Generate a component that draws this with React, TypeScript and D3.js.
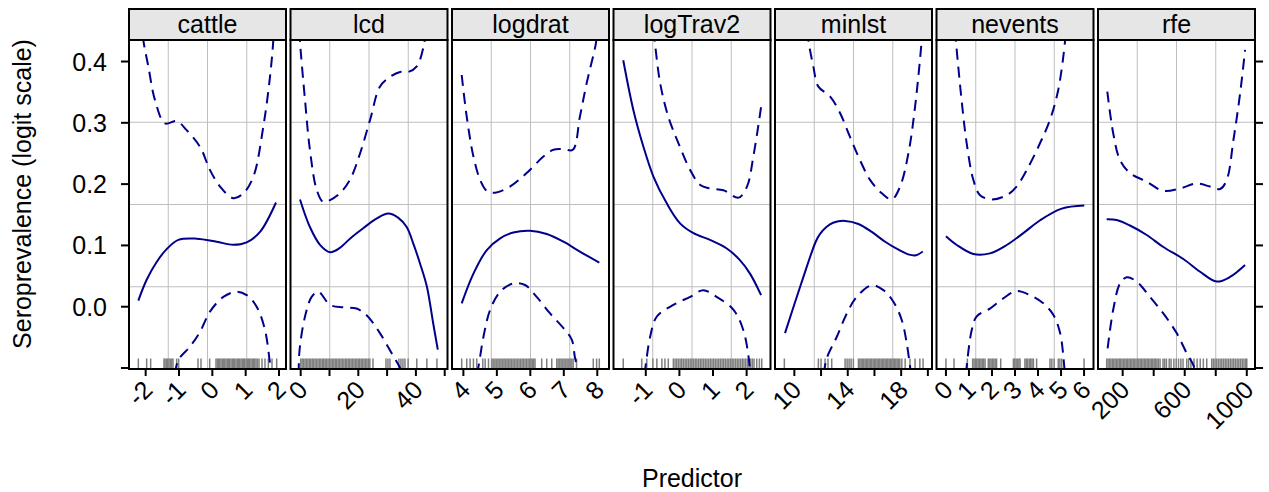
import * as d3 from "d3";

// y axis (shared by all panels)
const yTicks = [-0.1, 0, 0.1, 0.2, 0.3, 0.4];
const yTickLabels = ["", "0.0", "0.1", "0.2", "0.3", "0.4"];

const panelNames = ["cattle", "lcd", "logdrat", "logTrav2", "minlst", "nevents", "rfe"];

const xDomains: [number, number][] = [
  [-2.5, 2.21],
  [-3.54, 50.97],
  [3.66, 8.35],
  [-1.96, 2.71],
  [8.55, 20.31],
  [-0.41, 6.41],
  [41, 1053],
];

const xTicks = [
  [-2, -1, 0, 1, 2],
  [0, 10, 20, 30, 40, 50],
  [4, 5, 6, 7, 8],
  [-1, 0, 1, 2],
  [10, 12, 14, 16, 18, 20],
  [0, 1, 2, 3, 4, 5, 6],
  [200, 400, 600, 800, 1000],
];
const xTickLabels = [
  ["-2", "-1", "0", "1", "2"],
  ["0", "", "20", "", "40", ""],
  ["4", "5", "6", "7", "8"],
  ["-1", "0", "1", "2"],
  ["10", "", "14", "", "18", ""],
  ["0", "1", "2", "3", "4", "5", "6"],
  ["200", "", "600", "", "1000"],
];

// fitted curve and pointwise bands, [predictor, seroprevalence]
const cattleFit = [[-2.22, 0.01], [-1.97, 0.044], [-1.67, 0.073], [-1.37, 0.094], [-1.02, 0.109], [-0.47, 0.111], [0.13, 0.106], [0.63, 0.101], [1.03, 0.105], [1.43, 0.122], [1.91, 0.17]];
const cattleUpper = [[-2.12, 0.47], [-2.07, 0.435], [-1.92, 0.392], [-1.72, 0.337], [-1.42, 0.299], [-1.07, 0.303], [-0.77, 0.288], [-0.37, 0.261], [-0.07, 0.223], [0.23, 0.196], [0.63, 0.177], [0.93, 0.185], [1.23, 0.212], [1.53, 0.294], [1.73, 0.375], [1.83, 0.435], [1.86, 0.47]];
const cattleLower = [[-1.12, -0.11], [-1.02, -0.087], [-0.67, -0.065], [-0.37, -0.041], [-0.07, -0.008], [0.33, 0.016], [0.73, 0.0245], [1.03, 0.019], [1.33, 0.0], [1.58, -0.038], [1.73, -0.092], [1.78, -0.11]];

const lcdFit = [[-0.24, 0.175], [3.2, 0.13], [6.7, 0.101], [10.2, 0.089], [13.6, 0.096], [17.1, 0.111], [21.7, 0.128], [26.4, 0.144], [30.4, 0.152], [33.9, 0.145], [36.8, 0.13], [39.1, 0.103], [41.4, 0.071], [43.8, 0.033], [46, -0.027], [47.6, -0.07]];
const lcdUpper = [[-0.4, 0.45], [-0.2, 0.43], [1.5, 0.337], [3.2, 0.256], [5.6, 0.19], [7.8, 0.171], [10.2, 0.174], [13.6, 0.185], [17.1, 0.207], [20.6, 0.25], [24.1, 0.305], [27.5, 0.359], [31, 0.375], [34.5, 0.383], [37.4, 0.383], [40.3, 0.392], [42.9, 0.43], [43.3, 0.45]];
const lcdLower = [[-0.7, -0.11], [-0.4, -0.071], [1.5, -0.016], [3.8, 0.016], [6.1, 0.0245], [10.2, 0.003], [14.8, -0.001], [19.4, -0.003], [22.9, -0.014], [27.5, -0.043], [31.6, -0.076], [34.5, -0.1], [35.2, -0.11]];

const logdratFit = [[3.95, 0.0055], [4.3, 0.054], [4.7, 0.0925], [5.1, 0.1115], [5.49, 0.121], [5.99, 0.124], [6.49, 0.1186], [6.99, 0.106], [7.48, 0.09], [8.06, 0.072]];
const logdratUpper = [[3.95, 0.378], [4.1, 0.31], [4.3, 0.245], [4.5, 0.207], [4.7, 0.189], [4.95, 0.186], [5.39, 0.196], [5.89, 0.218], [6.39, 0.245], [6.69, 0.256], [6.99, 0.257], [7.27, 0.256], [7.48, 0.31], [7.68, 0.364], [7.96, 0.43], [8.0, 0.45]];
const logdratLower = [[4.4, -0.11], [4.45, -0.098], [4.6, -0.049], [4.8, -0.005], [5.1, 0.0245], [5.49, 0.038], [5.84, 0.0354], [6.19, 0.016], [6.59, -0.011], [6.99, -0.035], [7.24, -0.054], [7.33, -0.082], [7.41, -0.1], [7.44, -0.11]];

const logTrav2Fit = [[-1.67, 0.402], [-1.37, 0.321], [-1.07, 0.261], [-0.77, 0.212], [-0.38, 0.169], [0.02, 0.136], [0.42, 0.12], [0.91, 0.109], [1.41, 0.095], [1.8, 0.076], [2.1, 0.054], [2.43, 0.019]];
const logTrav2Upper = [[-0.78, 0.45], [-0.74, 0.435], [-0.57, 0.364], [-0.33, 0.31], [-0.03, 0.267], [0.32, 0.223], [0.62, 0.1985], [0.91, 0.193], [1.31, 0.19], [1.76, 0.178], [2.01, 0.196], [2.2, 0.245], [2.43, 0.326]];
const logTrav2Lower = [[-1.05, -0.11], [-1.02, -0.102], [-0.87, -0.049], [-0.67, -0.016], [-0.18, 0.003], [0.32, 0.016], [0.71, 0.027], [1.11, 0.016], [1.61, -0.005], [1.9, -0.038], [2.07, -0.087], [2.1, -0.11]];

const minlstFit = [[9.3, -0.043], [10.5, 0.037], [11.6, 0.106], [11.9, 0.118], [12.4, 0.13], [12.9, 0.137], [13.8, 0.14], [14.8, 0.135], [15.8, 0.122], [16.8, 0.106], [17.8, 0.093], [18.6, 0.085], [19.1, 0.084], [19.62, 0.09]];
const minlstUpper = [[11.0, 0.45], [11.05, 0.435], [11.42, 0.392], [11.8, 0.359], [12.67, 0.343], [13.42, 0.316], [14.17, 0.277], [14.92, 0.239], [15.67, 0.207], [16.55, 0.185], [17.3, 0.175], [17.92, 0.196], [18.54, 0.25], [19.04, 0.326], [19.54, 0.435], [19.58, 0.45]];
const minlstLower = [[12.2, -0.11], [12.43, -0.084], [13.18, -0.049], [13.93, -0.011], [14.67, 0.016], [15.8, 0.035], [16.67, 0.027], [17.42, 0.008], [18.05, -0.022], [18.42, -0.06], [18.67, -0.098], [18.75, -0.11]];

const neventsFit = [[0, 0.115], [0.47, 0.1007], [1.19, 0.086], [1.91, 0.087], [2.64, 0.1007], [3.36, 0.12], [4.09, 0.141], [5.03, 0.16], [6.01, 0.165]];
const neventsUpper = [[0.4, 0.45], [0.43, 0.435], [0.68, 0.337], [0.9, 0.267], [1.19, 0.207], [1.48, 0.182], [1.99, 0.175], [2.64, 0.182], [3.07, 0.196], [3.51, 0.223], [4.09, 0.267], [4.52, 0.305], [4.88, 0.354], [5.17, 0.432], [5.2, 0.45]];
const neventsLower = [[0.87, -0.11], [0.9, -0.098], [1.12, -0.038], [1.33, -0.016], [1.91, -0.003], [2.49, 0.0137], [3.07, 0.0256], [3.65, 0.019], [4.23, 0.0055], [4.67, -0.0135], [4.96, -0.043], [5.14, -0.098], [5.16, -0.11]];

const rfeFit = [[97, 0.1426], [161, 0.1414], [247, 0.1325], [355, 0.117], [462, 0.0974], [591, 0.0778], [699, 0.057], [806, 0.041], [892, 0.0485], [989, 0.068]];
const rfeUpper = [[101, 0.351], [139, 0.283], [183, 0.239], [247, 0.218], [355, 0.204], [462, 0.189], [570, 0.193], [677, 0.201], [763, 0.196], [828, 0.192], [871, 0.207], [914, 0.272], [957, 0.348], [989, 0.419]];
const rfeLower = [[103, -0.068], [139, -0.005], [183, 0.038], [226, 0.048], [290, 0.041], [376, 0.016], [462, -0.011], [548, -0.043], [613, -0.076], [655, -0.095], [670, -0.11]];

// rug of observed predictor values
const cattleRug = [-2.22, -1.97, -1.85, -1.45, -1.42, -1.38, -1.34, -1.3, -1.26, -1.22, -1.18, -1.07, -1.01, -0.43, -0.34, -0.08, 0.11, 0.15, 0.19, 0.22, 0.26, 0.3, 0.34, 0.37, 0.41, 0.45, 0.49, 0.52, 0.56, 0.6, 0.64, 0.67, 0.71, 0.75, 0.79, 0.82, 0.86, 0.9, 0.94, 0.97, 1.01, 1.05, 1.09, 1.12, 1.16, 1.2, 1.24, 1.27, 1.31, 1.35, 1.4, 1.49, 1.58, 1.68, 1.79, 1.93];
const lcdRug = [0, 0.5, 1, 1.5, 2, 2.5, 3, 3.5, 4, 4.5, 5, 5.5, 6, 6.5, 7, 7.5, 8, 8.5, 9, 9.5, 10, 10.5, 11, 11.5, 12, 12.5, 13, 13.5, 14, 14.5, 15, 15.5, 16, 16.5, 17, 17.5, 18, 18.5, 19, 19.5, 20, 20.5, 21, 21.5, 22, 22.5, 23, 23.5, 24, 25.1, 29.6, 30.3, 31, 34.1, 34.8, 35.5, 36.2, 37.3, 40.3, 43.8, 47.3];
const logdratRug = [3.95, 4.1, 4.2, 4.3, 4.4, 4.58, 4.65, 4.75, 4.85, 4.89, 4.94, 4.98, 5.03, 5.07, 5.12, 5.16, 5.21, 5.25, 5.3, 5.34, 5.39, 5.43, 5.48, 5.52, 5.57, 5.61, 5.66, 5.7, 5.75, 5.79, 5.84, 5.88, 5.93, 5.97, 6.02, 6.06, 6.1, 6.14, 6.34, 6.49, 6.64, 6.79, 6.83, 6.88, 6.92, 6.97, 7.01, 7.06, 7.1, 7.15, 7.19, 7.24, 7.28, 7.38, 7.88, 7.98, 8.06];
const logTrav2Rug = [-1.67, -1.12, -0.97, -0.79, -0.67, -0.52, -0.43, -0.33, -0.18, -0.13, -0.08, -0.03, 0.02, 0.07, 0.12, 0.17, 0.22, 0.27, 0.32, 0.37, 0.42, 0.47, 0.52, 0.57, 0.62, 0.67, 0.72, 0.77, 0.82, 0.87, 0.92, 0.97, 1.02, 1.07, 1.12, 1.17, 1.22, 1.27, 1.32, 1.37, 1.42, 1.47, 1.52, 1.57, 1.62, 1.67, 1.72, 1.77, 1.82, 1.87, 1.92, 1.97, 2.02, 2.07, 2.12, 2.17, 2.22, 2.3, 2.38, 2.45];
const minlstRug = [9.25, 11.8, 12.0, 12.3, 12.52, 12.8, 13.8, 13.95, 14.1, 14.25, 14.42, 14.8, 14.9, 15.0, 15.1, 15.2, 15.3, 15.4, 15.5, 15.6, 15.7, 15.8, 15.9, 16.0, 16.1, 16.2, 16.3, 16.4, 16.5, 16.6, 16.7, 16.8, 16.9, 17.0, 17.1, 17.2, 17.3, 17.4, 17.5, 17.6, 17.7, 17.8, 17.9, 18.05, 18.3, 18.66, 19.04, 19.4, 19.64];
const neventsRug = [0, 0.35, 0.93, 1.16, 1.22, 1.28, 1.34, 1.4, 1.46, 1.52, 1.58, 1.64, 1.7, 1.84, 1.9, 1.96, 2.02, 2.08, 2.14, 2.2, 2.38, 2.93, 2.99, 3.05, 3.11, 3.17, 3.22, 3.43, 3.49, 3.55, 3.62, 3.68, 3.74, 3.8, 3.94, 4.52, 4.6, 4.7, 4.88, 4.95, 5.03, 6.0];
const rfeRug = [97, 106, 115, 124, 133, 142, 151, 160, 169, 178, 187, 196, 205, 214, 223, 232, 241, 250, 259, 268, 277, 286, 295, 304, 313, 322, 331, 340, 349, 358, 367, 376, 385, 394, 403, 412, 421, 430, 441, 460, 471, 482, 500, 512, 530, 545, 560, 575, 589, 613, 625, 640, 660, 680, 700, 720, 742, 774, 784, 795, 806, 817, 828, 839, 850, 861, 872, 883, 894, 905, 916, 927, 938, 949, 960, 971, 982, 993, 1000];

const fits = [cattleFit, lcdFit, logdratFit, logTrav2Fit, minlstFit, neventsFit, rfeFit];
const uppers = [cattleUpper, lcdUpper, logdratUpper, logTrav2Upper, minlstUpper, neventsUpper, rfeUpper];
const lowers = [cattleLower, lcdLower, logdratLower, logTrav2Lower, minlstLower, neventsLower, rfeLower];
const rugs = [cattleRug, lcdRug, logdratRug, logTrav2Rug, minlstRug, neventsRug, rfeRug];

const W = 1269;
const H = 492;
const left = 129;
const panelW = 157;
const step = 161.5;
const stripTop = 9;
const top = 40;
const bottom = 369;
const font = "'Liberation Sans', Arial, sans-serif";
const lineColor = "#00008B";
const quarters = [0.25, 0.5, 0.75];

export default function App() {
  const y = d3.scaleLinear().domain([-0.1016, 0.4351]).range([bottom, top]);

  return (
    <svg width={W} height={H} style={{ position: "absolute", left: 0, top: 0, background: "white" }} fontFamily={font}>
      <defs>
        {panelNames.map((n, i) => (
          <clipPath id={`clip-${i}`} key={n}>
            <rect x={left + i * step} y={top} width={panelW} height={bottom - top} />
          </clipPath>
        ))}
      </defs>

      {panelNames.map((name, i) => {
        const x0 = left + i * step;
        const x = d3.scaleLinear().domain(xDomains[i]).range([x0, x0 + panelW]);
        const line = d3
          .line<number[]>()
          .x((d) => x(d[0]))
          .y((d) => y(d[1]))
          .curve(d3.curveCatmullRom.alpha(0.5));
        return (
          <g key={name}>
            {quarters.map((q) => (
              <line key={"v" + q} x1={x0 + q * panelW} x2={x0 + q * panelW} y1={top} y2={bottom} stroke="#bebebe" strokeWidth={1} />
            ))}
            {quarters.map((q) => (
              <line key={"h" + q} x1={x0} x2={x0 + panelW} y1={top + q * (bottom - top)} y2={top + q * (bottom - top)} stroke="#bebebe" strokeWidth={1} />
            ))}
            <g clipPath={`url(#clip-${i})`}>
              {rugs[i].map((v, k) => (
                <line key={k} x1={x(v)} x2={x(v)} y1={bottom - 10.5} y2={bottom} stroke="#7f7f7f" strokeWidth={1.5} />
              ))}
              <path d={line(uppers[i]) || ""} fill="none" stroke={lineColor} strokeWidth={2} strokeDasharray="11,7" />
              <path d={line(lowers[i]) || ""} fill="none" stroke={lineColor} strokeWidth={2} strokeDasharray="11,7" />
              <path d={line(fits[i]) || ""} fill="none" stroke={lineColor} strokeWidth={2} />
            </g>
            <rect x={x0} y={top} width={panelW} height={bottom - top} fill="none" stroke="#000" strokeWidth={2} />
            <rect x={x0} y={stripTop} width={panelW} height={top - stripTop} fill="#e6e6e6" stroke="#000" strokeWidth={2} />
            <text x={x0 + panelW / 2} y={33} textAnchor="middle" fontSize={25}>
              {name}
            </text>
            {xTicks[i].map((t, k) => (
              <g key={t}>
                <line x1={x(t)} x2={x(t)} y1={bottom} y2={bottom + 7} stroke="#000" strokeWidth={2} />
                {xTickLabels[i][k] && (
                  <text transform={`translate(${x(t) + 2},${bottom + 16}) rotate(-45)`} textAnchor="end" dominantBaseline="central" fontSize={25}>
                    {xTickLabels[i][k]}
                  </text>
                )}
              </g>
            ))}
          </g>
        );
      })}

      {yTicks.map((t, k) => (
        <g key={t}>
          <line x1={left - 8} x2={left} y1={y(t)} y2={y(t)} stroke="#000" strokeWidth={2} />
          <line x1={left + 6 * step + panelW} x2={left + 6 * step + panelW + 8} y1={y(t)} y2={y(t)} stroke="#000" strokeWidth={2} />
          {yTickLabels[k] && (
            <text x={107} y={y(t)} textAnchor="end" dominantBaseline="central" fontSize={25}>
              {yTickLabels[k]}
            </text>
          )}
        </g>
      ))}

      <text transform="translate(31,194) rotate(-90)" textAnchor="middle" fontSize={25}>
        Seroprevalence (logit scale)
      </text>
      <text x={692} y={487} textAnchor="middle" fontSize={25}>
        Predictor
      </text>
    </svg>
  );
}
